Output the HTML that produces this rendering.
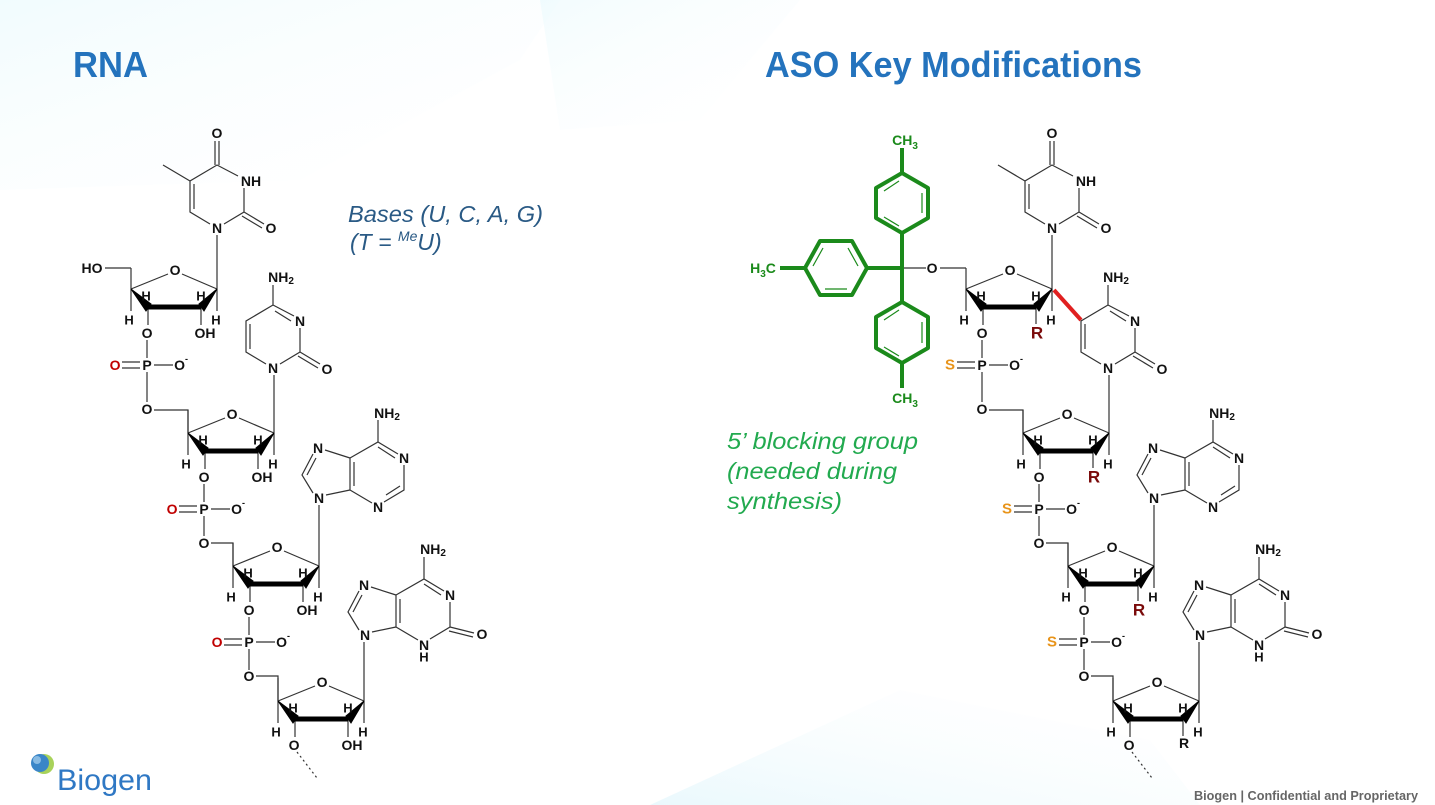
<!DOCTYPE html>
<html><head><meta charset="utf-8">
<style>
html,body{margin:0;padding:0;background:#fff;}
svg{display:block;}
.b text{font-family:"Liberation Sans",sans-serif;font-weight:bold;font-size:14px;text-anchor:middle;dominant-baseline:central;fill:#111;}
.b text.h{font-size:13px;}
.t{stroke:#333;stroke-width:1.2;fill:none;}
.k{stroke:#000;fill:#000;}
</style></head>
<body>
<svg width="1435" height="805" viewBox="0 0 1435 805" xmlns="http://www.w3.org/2000/svg">
<defs>
<linearGradient id="g1" x1="0" y1="0" x2="1" y2="1"><stop offset="0" stop-color="#e3f8fc"/><stop offset="1" stop-color="#ffffff" stop-opacity="0"/></linearGradient>
<linearGradient id="g2" x1="0" y1="1" x2="1" y2="0"><stop offset="0" stop-color="#dcf4fb"/><stop offset="1" stop-color="#ffffff" stop-opacity="0"/></linearGradient>
</defs>
<rect width="1435" height="805" fill="#fff"/>
<polygon points="0,0 560,0 520,60 300,180 0,190" fill="url(#g1)" opacity="0.5"/>
<polygon points="540,0 800,0 700,120 560,130" fill="url(#g1)" opacity="0.45"/>
<polygon points="650,805 900,690 1150,740 1200,805" fill="url(#g2)" opacity="0.6"/>

<text x="73" y="77" font-family="'Liberation Sans Narrow','Liberation Sans',sans-serif" font-weight="bold" font-size="36" fill="#2473bd" textLength="75" lengthAdjust="spacingAndGlyphs">RNA</text>
<text x="765" y="77" font-family="'Liberation Sans Narrow','Liberation Sans',sans-serif" font-weight="bold" font-size="36" fill="#2473bd" textLength="377" lengthAdjust="spacingAndGlyphs">ASO Key Modifications</text>

<text x="348" y="222" font-family="'Liberation Sans',sans-serif" font-style="italic" font-size="23" fill="#2a5a85" textLength="195" lengthAdjust="spacingAndGlyphs">Bases (U, C, A, G)</text>
<text x="350" y="250" font-family="'Liberation Sans',sans-serif" font-style="italic" font-size="23" fill="#2a5a85">(T = <tspan font-size="14" dy="-9">Me</tspan><tspan dy="9">U)</tspan></text>

<g font-family="'Liberation Sans',sans-serif" font-style="italic" font-size="23" fill="#22aa4f">
<text x="727" y="449" textLength="191" lengthAdjust="spacingAndGlyphs">5’ blocking group</text>
<text x="727" y="479" textLength="170" lengthAdjust="spacingAndGlyphs">(needed during</text>
<text x="727" y="509" textLength="115" lengthAdjust="spacingAndGlyphs">synthesis)</text>
</g>

<circle cx="44" cy="764" r="10" fill="#a8d25a"/>
<circle cx="40" cy="763" r="9" fill="#3a86c8"/>
<circle cx="37" cy="760" r="4" fill="#9cc8ea" opacity="0.8"/>
<text x="57" y="790" font-family="'Liberation Sans',sans-serif" font-size="30" fill="#2f78c4" textLength="95" lengthAdjust="spacingAndGlyphs">Biogen</text>
<text x="1194" y="800" font-family="'Liberation Sans',sans-serif" font-size="12.5" font-weight="bold" fill="#666" textLength="224" lengthAdjust="spacingAndGlyphs">Biogen | Confidential and Proprietary</text>

<g class="b" id="L">
<path class="t" d="M224,224 L244,212 V188 M238,176 L217,165 L190,181 V212 L210,224 M194,184 V209 M215,165 V141 M219,165 V141 M244,212 L264,224 M242,216 L262,228 M190,181 L163,165 M217,289 V235"/>
<text x="217" y="228">N</text><text x="251" y="181">NH</text><text x="217" y="133">O</text><text x="271" y="228">O</text>
<path class="t" d="M280,364 L300,352 V328 M294,316 L273,305 M291,321 L275,311 M273,305 L246,321 V352 L266,364 M250,324 V349 M273,305 V285 M300,352 L320,364 M298,356 L318,368 M274,433 V375"/>
<text x="273" y="368">N</text><text x="300" y="321">N</text><text x="327" y="369">O</text><text x="281" y="277">NH<tspan font-size="10" dy="4">2</tspan></text>

<path class="t" d="M326,495 L350,490 M313,493 L302,475 L313,454 M307,475 L316,458 M325,450 L350,458 V490 M354,462 V486 M350,458 L378,442 L398,454 M378,447 L395,458 M404,465 V490 L384,502 M400,486 L386,495 M372,503 L350,490 M378,442 V420 M319,566 V505"/>
<text x="319" y="498">N</text><text x="318" y="448">N</text><text x="404" y="458">N</text><text x="378" y="507">N</text><text x="387" y="413">NH<tspan font-size="10" dy="4">2</tspan></text>
<path class="t" d="M372,632 L396,627 M359,630 L348,612 L359,591 M353,612 L362,595 M371,587 L396,595 V627 M400,599 V623 M396,595 L424,579 L444,591 M424,584 L441,595 M450,602 V627 L430,639 M418,640 L396,627 M424,579 V557 M450,627 L474,633 M449,631 L473,637 M364,701 V642"/>
<text x="365" y="635">N</text><text x="364" y="585">N</text><text x="450" y="595">N</text><text x="424" y="645">N</text><text x="424" y="657" class="h">H</text><text x="482" y="634">O</text><text x="433" y="549">NH<tspan font-size="10" dy="4">2</tspan></text>

<g transform="translate(175,270)">
<text x="0" y="0">O</text>
<path class="t" d="M-7,4 L-44,19 M7,4 L42,19 M-44,19 V-2 M-44,19 V41 M42,19 V41 M-27,37 V55 M26,37 V55 M-44,-2 H-70"/>
<polygon class="k" points="-44,19 -29,41 -24,34"/><line class="k" x1="-27" y1="37" x2="26" y2="37" stroke-width="5"/><polygon class="k" points="42,19 24,34 29,41"/>
<text x="-29" y="26" class="h">H</text><text x="26" y="26" class="h">H</text><text x="-46" y="50" class="h">H</text><text x="41" y="50" class="h">H</text>
<text x="-28" y="63">O</text><text x="30" y="63">OH</text>
<text x="-83" y="-2">HO</text>
<path class="t" d="M-28,70 V88 M-21,95 H-2 M-35,92 H-53 M-35,98 H-53"/>
<text x="-28" y="95">P</text><text x="6" y="95">O<tspan font-size="9" dy="-6">-</tspan></text><text x="-60" y="95" style="fill:#c00000">O</text>
</g>
<path class="t" d="M147,372 V402 M154,410 H188 V433"/><text x="147" y="409">O</text>

<g transform="translate(232,414)">
<text x="0" y="0">O</text>
<path class="t" d="M-7,4 L-44,19 M7,4 L42,19 M-44,19 V-4 M-44,19 V41 M42,19 V41 M-27,37 V55 M26,37 V55"/>
<polygon class="k" points="-44,19 -29,41 -24,34"/><line class="k" x1="-27" y1="37" x2="26" y2="37" stroke-width="5"/><polygon class="k" points="42,19 24,34 29,41"/>
<text x="-29" y="26" class="h">H</text><text x="26" y="26" class="h">H</text><text x="-46" y="50" class="h">H</text><text x="41" y="50" class="h">H</text>
<text x="-28" y="63">O</text><text x="30" y="63">OH</text>
<path class="t" d="M-28,70 V88 M-21,95 H-2 M-35,92 H-53 M-35,98 H-53"/>
<text x="-28" y="95">P</text><text x="6" y="95">O<tspan font-size="9" dy="-6">-</tspan></text><text x="-60" y="95" style="fill:#c00000">O</text>
</g>
<path class="t" d="M204,516 V536 M211,543 H233 V566"/><text x="204" y="543">O</text>

<g transform="translate(277,547)">
<text x="0" y="0">O</text>
<path class="t" d="M-7,4 L-44,19 M7,4 L42,19 M-44,19 V-4 M-44,19 V41 M42,19 V41 M-27,37 V55 M26,37 V55"/>
<polygon class="k" points="-44,19 -29,41 -24,34"/><line class="k" x1="-27" y1="37" x2="26" y2="37" stroke-width="5"/><polygon class="k" points="42,19 24,34 29,41"/>
<text x="-29" y="26" class="h">H</text><text x="26" y="26" class="h">H</text><text x="-46" y="50" class="h">H</text><text x="41" y="50" class="h">H</text>
<text x="-28" y="63">O</text><text x="30" y="63">OH</text>
<path class="t" d="M-28,70 V88 M-21,95 H-2 M-35,92 H-53 M-35,98 H-53"/>
<text x="-28" y="95">P</text><text x="6" y="95">O<tspan font-size="9" dy="-6">-</tspan></text><text x="-60" y="95" style="fill:#c00000">O</text>
</g>
<path class="t" d="M249,649 V670 M256,676 H278 V701"/><text x="249" y="676">O</text>

<g transform="translate(322,682)">
<text x="0" y="0">O</text>
<path class="t" d="M-7,4 L-44,19 M7,4 L42,19 M-44,19 V-4 M-44,19 V41 M42,19 V41 M-27,37 V55 M26,37 V55"/>
<polygon class="k" points="-44,19 -29,41 -24,34"/><line class="k" x1="-27" y1="37" x2="26" y2="37" stroke-width="5"/><polygon class="k" points="42,19 24,34 29,41"/>
<text x="-29" y="26" class="h">H</text><text x="26" y="26" class="h">H</text><text x="-46" y="50" class="h">H</text><text x="41" y="50" class="h">H</text>
<text x="-28" y="63">O</text><text x="30" y="63">OH</text>
<path d="M-25,70 L-5,96" stroke="#333" stroke-width="1.2" stroke-dasharray="2,3" fill="none"/>
</g>
</g>

<g class="b" transform="translate(835,0)">
<path class="t" d="M224,224 L244,212 V188 M238,176 L217,165 L190,181 V212 L210,224 M194,184 V209 M215,165 V141 M219,165 V141 M244,212 L264,224 M242,216 L262,228 M190,181 L163,165 M217,289 V235"/>
<text x="217" y="228">N</text><text x="251" y="181">NH</text><text x="217" y="133">O</text><text x="271" y="228">O</text>
<path class="t" d="M280,364 L300,352 V328 M294,316 L273,305 M291,321 L275,311 M273,305 L246,321 V352 L266,364 M250,324 V349 M273,305 V285 M300,352 L320,364 M298,356 L318,368 M274,433 V375"/>
<line x1="219" y1="290" x2="246" y2="320" stroke="#e02020" stroke-width="4"/>
<text x="273" y="368">N</text><text x="300" y="321">N</text><text x="327" y="369">O</text><text x="281" y="277">NH<tspan font-size="10" dy="4">2</tspan></text>
<path class="t" d="M326,495 L350,490 M313,493 L302,475 L313,454 M307,475 L316,458 M325,450 L350,458 V490 M354,462 V486 M350,458 L378,442 L398,454 M378,447 L395,458 M404,465 V490 L384,502 M400,486 L386,495 M372,503 L350,490 M378,442 V420 M319,566 V505"/>
<text x="319" y="498">N</text><text x="318" y="448">N</text><text x="404" y="458">N</text><text x="378" y="507">N</text><text x="387" y="413">NH<tspan font-size="10" dy="4">2</tspan></text>
<path class="t" d="M372,632 L396,627 M359,630 L348,612 L359,591 M353,612 L362,595 M371,587 L396,595 V627 M400,599 V623 M396,595 L424,579 L444,591 M424,584 L441,595 M450,602 V627 L430,639 M418,640 L396,627 M424,579 V557 M450,627 L474,633 M449,631 L473,637 M364,701 V642"/>
<text x="365" y="635">N</text><text x="364" y="585">N</text><text x="450" y="595">N</text><text x="424" y="645">N</text><text x="424" y="657" class="h">H</text><text x="482" y="634">O</text><text x="433" y="549">NH<tspan font-size="10" dy="4">2</tspan></text>

<g transform="translate(175,270)">
<text x="0" y="0">O</text>
<path class="t" d="M-7,4 L-44,19 M7,4 L42,19 M-44,19 V-2 M-44,19 V41 M42,19 V41 M-27,37 V55 M26,37 V54 M-44,-2 H-70"/>
<polygon class="k" points="-44,19 -29,41 -24,34"/><line class="k" x1="-27" y1="37" x2="26" y2="37" stroke-width="5"/><polygon class="k" points="42,19 24,34 29,41"/>
<text x="-29" y="26" class="h">H</text><text x="26" y="26" class="h">H</text><text x="-46" y="50" class="h">H</text><text x="41" y="50" class="h">H</text>
<text x="-28" y="63">O</text><text x="27" y="63" style="fill:#7a0a0a;font-size:17px">R</text>
<text x="-78" y="-2">O</text>
<path class="t" d="M-28,70 V88 M-21,95 H-2 M-35,92 H-53 M-35,98 H-53"/>
<text x="-28" y="95">P</text><text x="6" y="95">O<tspan font-size="9" dy="-6">-</tspan></text><text x="-60" y="95" style="fill:#e8941a;font-size:15px">S</text>
</g>
<path class="t" d="M147,372 V402 M154,410 H188 V433"/><text x="147" y="409">O</text>

<g transform="translate(232,414)">
<text x="0" y="0">O</text>
<path class="t" d="M-7,4 L-44,19 M7,4 L42,19 M-44,19 V-4 M-44,19 V41 M42,19 V41 M-27,37 V55 M26,37 V54"/>
<polygon class="k" points="-44,19 -29,41 -24,34"/><line class="k" x1="-27" y1="37" x2="26" y2="37" stroke-width="5"/><polygon class="k" points="42,19 24,34 29,41"/>
<text x="-29" y="26" class="h">H</text><text x="26" y="26" class="h">H</text><text x="-46" y="50" class="h">H</text><text x="41" y="50" class="h">H</text>
<text x="-28" y="63">O</text><text x="27" y="63" style="fill:#7a0a0a;font-size:17px">R</text>
<path class="t" d="M-28,70 V88 M-21,95 H-2 M-35,92 H-53 M-35,98 H-53"/>
<text x="-28" y="95">P</text><text x="6" y="95">O<tspan font-size="9" dy="-6">-</tspan></text><text x="-60" y="95" style="fill:#e8941a;font-size:15px">S</text>
</g>
<path class="t" d="M204,516 V536 M211,543 H233 V566"/><text x="204" y="543">O</text>

<g transform="translate(277,547)">
<text x="0" y="0">O</text>
<path class="t" d="M-7,4 L-44,19 M7,4 L42,19 M-44,19 V-4 M-44,19 V41 M42,19 V41 M-27,37 V55 M26,37 V54"/>
<polygon class="k" points="-44,19 -29,41 -24,34"/><line class="k" x1="-27" y1="37" x2="26" y2="37" stroke-width="5"/><polygon class="k" points="42,19 24,34 29,41"/>
<text x="-29" y="26" class="h">H</text><text x="26" y="26" class="h">H</text><text x="-46" y="50" class="h">H</text><text x="41" y="50" class="h">H</text>
<text x="-28" y="63">O</text><text x="27" y="63" style="fill:#7a0a0a;font-size:17px">R</text>
<path class="t" d="M-28,70 V88 M-21,95 H-2 M-35,92 H-53 M-35,98 H-53"/>
<text x="-28" y="95">P</text><text x="6" y="95">O<tspan font-size="9" dy="-6">-</tspan></text><text x="-60" y="95" style="fill:#e8941a;font-size:15px">S</text>
</g>
<path class="t" d="M249,649 V670 M256,676 H278 V701"/><text x="249" y="676">O</text>

<g transform="translate(322,682)">
<text x="0" y="0">O</text>
<path class="t" d="M-7,4 L-44,19 M7,4 L42,19 M-44,19 V-4 M-44,19 V41 M42,19 V41 M-27,37 V55 M26,37 V54"/>
<polygon class="k" points="-44,19 -29,41 -24,34"/><line class="k" x1="-27" y1="37" x2="26" y2="37" stroke-width="5"/><polygon class="k" points="42,19 24,34 29,41"/>
<text x="-29" y="26" class="h">H</text><text x="26" y="26" class="h">H</text><text x="-46" y="50" class="h">H</text><text x="41" y="50" class="h">H</text>
<text x="-28" y="63">O</text><text x="27" y="61">R</text>
<path d="M-25,70 L-5,96" stroke="#333" stroke-width="1.2" stroke-dasharray="2,3" fill="none"/>
</g>
</g>

<g stroke="#1b8a1b" fill="none" stroke-linejoin="round">
<line x1="902" y1="268" x2="926" y2="268" stroke="#333" stroke-width="1.2"/>
<g stroke-width="4">
<polygon points="902,173 928,188 928,218 902,233 876,218 876,188"/>
<polygon points="805,268 820,241 852,241 867,268 852,295 820,295"/>
<polygon points="902,302 928,317 928,348 902,363 876,348 876,317"/>
<path d="M902,173 V148 M902,233 V302 M867,268 H902 M805,268 H780 M902,363 V388"/>
</g>
<g stroke-width="1.2">
<path d="M922,193 V213 M899,226 L884,217 M884,191 L899,181"/>
<path d="M848,248 L858,266 M847,289 H825 M813,266 L823,248"/>
<path d="M922,322 V343 M899,356 L884,347 M884,320 L899,310"/>
</g>
</g>
<g font-family="'Liberation Sans',sans-serif" font-size="14" fill="#1b8a1b" font-weight="bold" text-anchor="middle">
<text x="905" y="145">CH<tspan font-size="10" dy="4">3</tspan></text>
<text x="905" y="403">CH<tspan font-size="10" dy="4">3</tspan></text>
<text x="763" y="273">H<tspan font-size="10" dy="4">3</tspan><tspan dy="-4">C</tspan></text>
</g>
</svg>
</body></html>
